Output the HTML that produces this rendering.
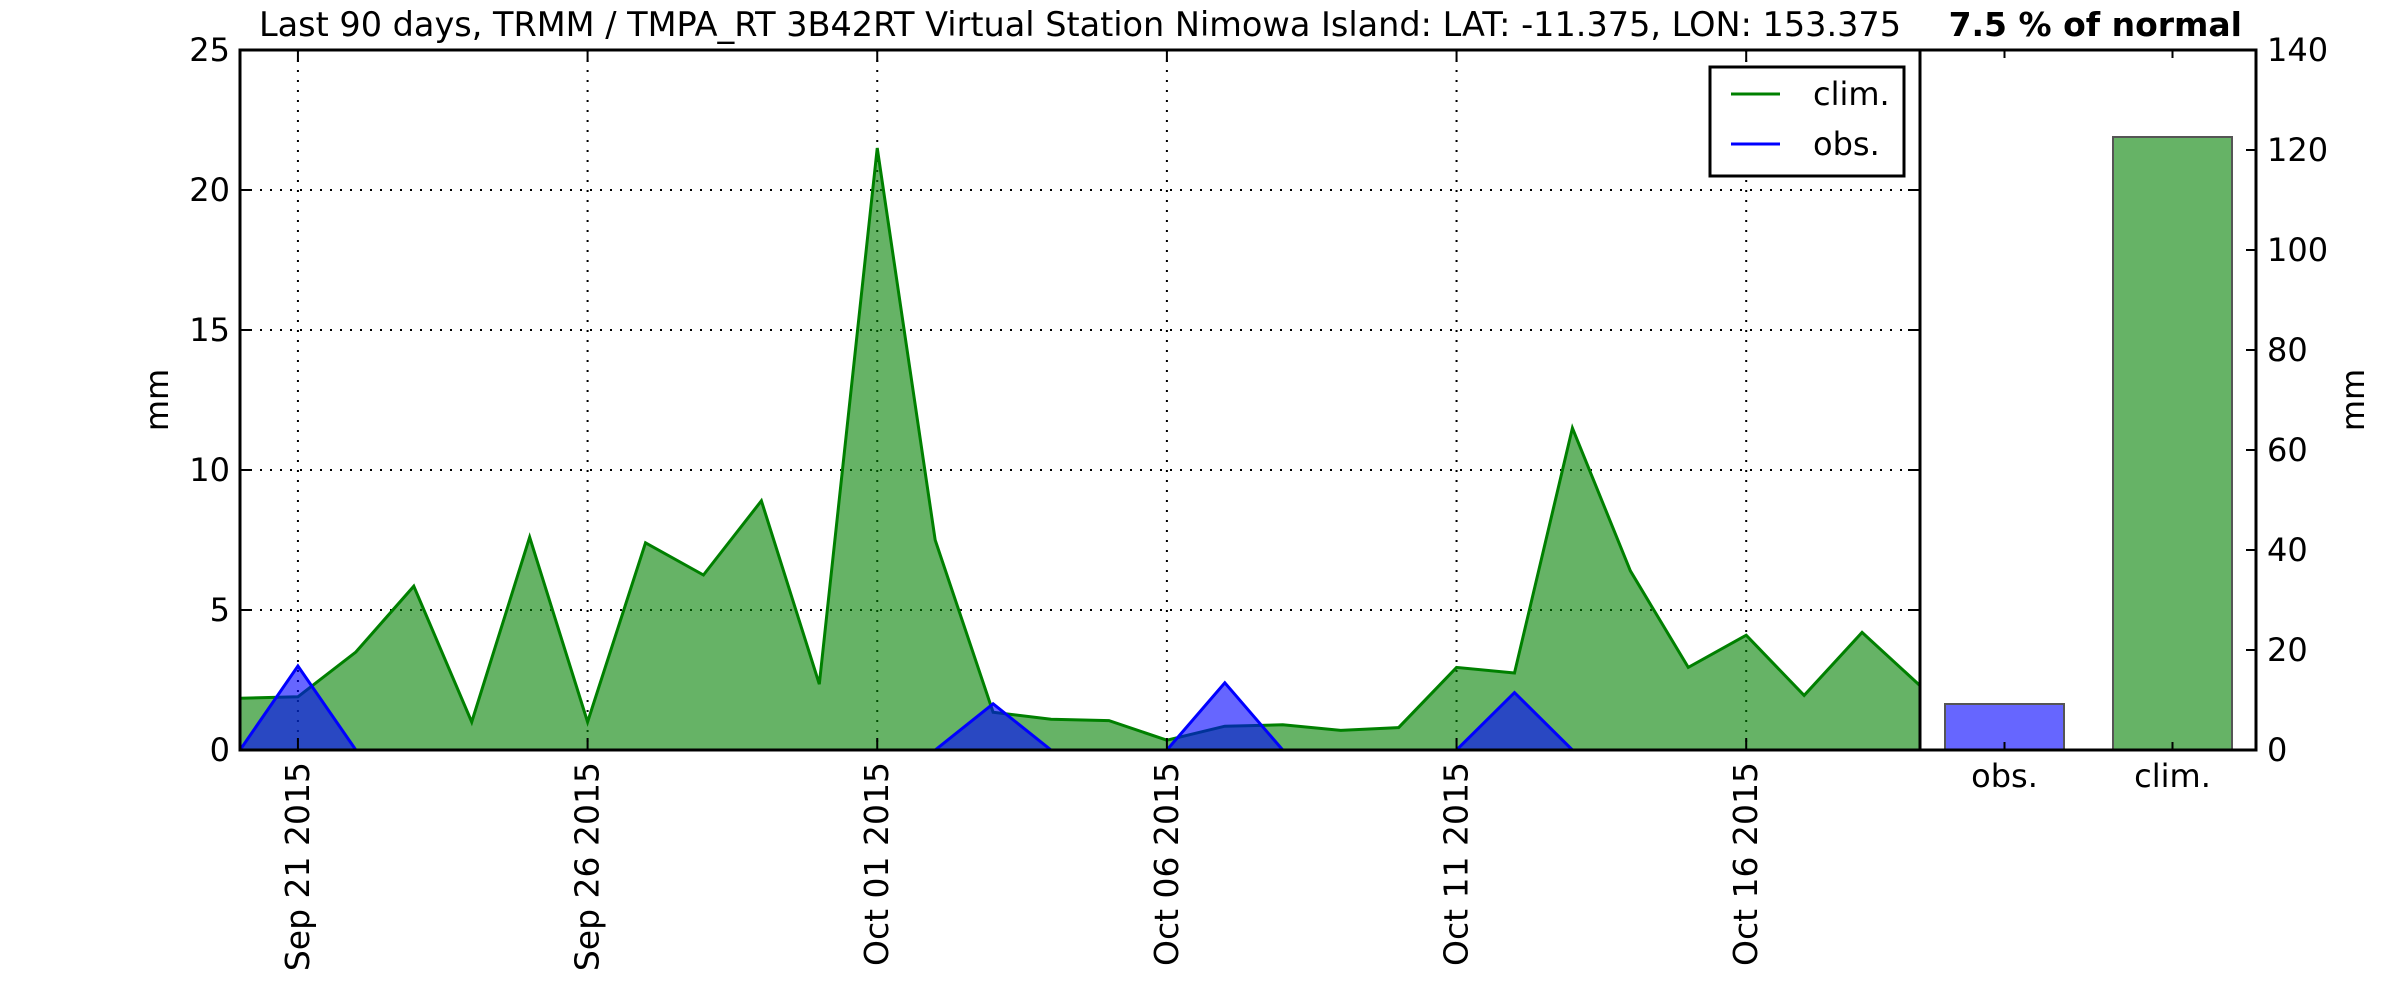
<!DOCTYPE html>
<html><head><meta charset="utf-8"><style>
html,body{margin:0;padding:0;background:#fff}
svg{display:block}
text{font-family:"DejaVu Sans","Liberation Sans",sans-serif;fill:#000}
</style></head><body>
<svg id="chart" width="2400" height="1000" viewBox="0 0 2400 1000" xmlns="http://www.w3.org/2000/svg">
<text x="1080" y="36" font-size="33.5" text-anchor="middle">Last 90 days, TRMM / TMPA_RT 3B42RT Virtual Station Nimowa Island: LAT: -11.375, LON: 153.375</text>
<text x="2242" y="36" font-size="33" font-weight="bold" text-anchor="end">7.5 % of normal</text>
<g id="g"></g>
</svg>
<script>
const dayLabels = ["Sep 21 2015","Sep 26 2015","Oct 01 2015","Oct 06 2015","Oct 11 2015","Oct 16 2015"];
const dayLabelIdx = [1,6,11,16,21,26];
const climVals = [1.85,1.9,3.5,5.85,1.0,7.6,1.0,7.4,6.25,8.9,2.35,21.5,7.5,1.35,1.1,1.05,0.35,0.85,0.9,0.7,0.8,2.95,2.75,11.5,6.4,2.95,4.1,1.95,4.2,2.3];
const obsVals = [0,3.0,0,0,0,0,0,0,0,0,0,0,0,1.65,0,0,0,2.4,0,0,0,0,2.05,0,0,0,0,0,0,0];
const yTicks = [0,5,10,15,20,25];
const barCats = ["obs.","clim."];
const barVals = [9.2,122.6];
const barTicks = [0,20,40,60,80,100,120,140];

const NS="http://www.w3.org/2000/svg";
const g=document.getElementById('g');
function el(t,a,p){const e=document.createElementNS(NS,t);for(const k in a)e.setAttribute(k,a[k]);(p||g).appendChild(e);return e;}
const L=240,R=1920,T=50,B=750;
const x=i=>L+(R-L)*i/(climVals.length-1);
const y=v=>B-(B-T)*v/25;
const BL=1920,BR=2256;
const by=v=>B-(B-T)*v/140;
const BW=119;
const bx=i=>2004.5+i*168;

// grid
yTicks.forEach(v=>{if(v>0&&v<25){const l=el('line',{x1:L,x2:R,y1:y(v),y2:y(v),stroke:'#000','stroke-width':2,'stroke-dasharray':'2 8'});

}});
dayLabelIdx.forEach(i=>{const l=el('line',{x1:x(i),x2:x(i),y1:T,y2:B,stroke:'#000','stroke-width':2,'stroke-dasharray':'2 8'});

});

function area(vals,color,name){
  let d='M'+x(0)+','+B;
  vals.forEach((v,i)=>d+=' L'+x(i)+','+y(v));
  d+=' L'+x(vals.length-1)+','+B+' Z';
  const f=el('path',{d:d,fill:color,'fill-opacity':0.6,stroke:'none'});
  
  
  const ln=el('polyline',{points:vals.map((v,i)=>x(i)+','+y(v)).join(' '),fill:'none',stroke:color,'stroke-width':3});
  
  
}
area(climVals,'#008000','clim');
area(obsVals,'#0000ff','obs');

const fr=el('rect',{x:L,y:T,width:R-L,height:B-T,fill:'none',stroke:'#000','stroke-width':3});


yTicks.forEach(v=>{
  el('line',{x1:L,x2:L+12,y1:y(v),y2:y(v),stroke:'#000','stroke-width':2});
  el('line',{x1:R-12,x2:R,y1:y(v),y2:y(v),stroke:'#000','stroke-width':2});
  const t=el('text',{x:L-10,y:y(v)+11,'font-size':32,'text-anchor':'end'});t.textContent=v;
  
  
});
dayLabelIdx.forEach((i,k)=>{
  el('line',{x1:x(i),x2:x(i),y1:B-12,y2:B,stroke:'#000','stroke-width':2});
  el('line',{x1:x(i),x2:x(i),y1:T,y2:T+12,stroke:'#000','stroke-width':2});
  const t=el('text',{x:0,y:0,'font-size':33,'text-anchor':'end',transform:'translate('+(x(i)+11)+','+(B+12)+') rotate(-90)'});
  t.textContent=dayLabels[k];
  
  
});
const yl=el('text',{x:0,y:0,'font-size':32,'text-anchor':'middle',transform:'translate(168,400) rotate(-90)'});
yl.textContent='mm';



const lg=el('g',{});


el('rect',{x:1710,y:67,width:194,height:109,fill:'#fff',stroke:'#000','stroke-width':3},lg);
[['clim.','#008000',94],['obs.','#0000ff',144]].forEach(e=>{
  el('line',{x1:1731,x2:1780,y1:e[2],y2:e[2],stroke:e[1],'stroke-width':3},lg);
  const t=el('text',{x:1813,y:e[2]+11,'font-size':32},lg);t.textContent=e[0];
  
  
});

barVals.forEach((v,i)=>{
  const r=el('rect',{x:bx(i)-BW/2,y:by(v),width:BW,height:B-by(v),fill:i==0?'#0000ff':'#008000','fill-opacity':0.6,stroke:'#555','stroke-width':2});
  
  
  el('line',{x1:bx(i),x2:bx(i),y1:B-8,y2:B,stroke:'#000','stroke-width':2});
  el('line',{x1:bx(i),x2:bx(i),y1:T,y2:T+8,stroke:'#000','stroke-width':2});
  const t=el('text',{x:bx(i),y:B+37,'font-size':32,'text-anchor':'middle'});t.textContent=barCats[i];
  
  
});
const bf=el('rect',{x:BL,y:T,width:BR-BL,height:B-T,fill:'none',stroke:'#000','stroke-width':3});


barTicks.forEach(v=>{
  el('line',{x1:BR-10,x2:BR,y1:by(v),y2:by(v),stroke:'#000','stroke-width':2});
  const t=el('text',{x:BR+11,y:by(v)+11,'font-size':32});t.textContent=v;
  
  
});
const yr=el('text',{x:0,y:0,'font-size':32,'text-anchor':'middle',transform:'translate(2364,400) rotate(-90)'});
yr.textContent='mm';


</script>
</body></html>
